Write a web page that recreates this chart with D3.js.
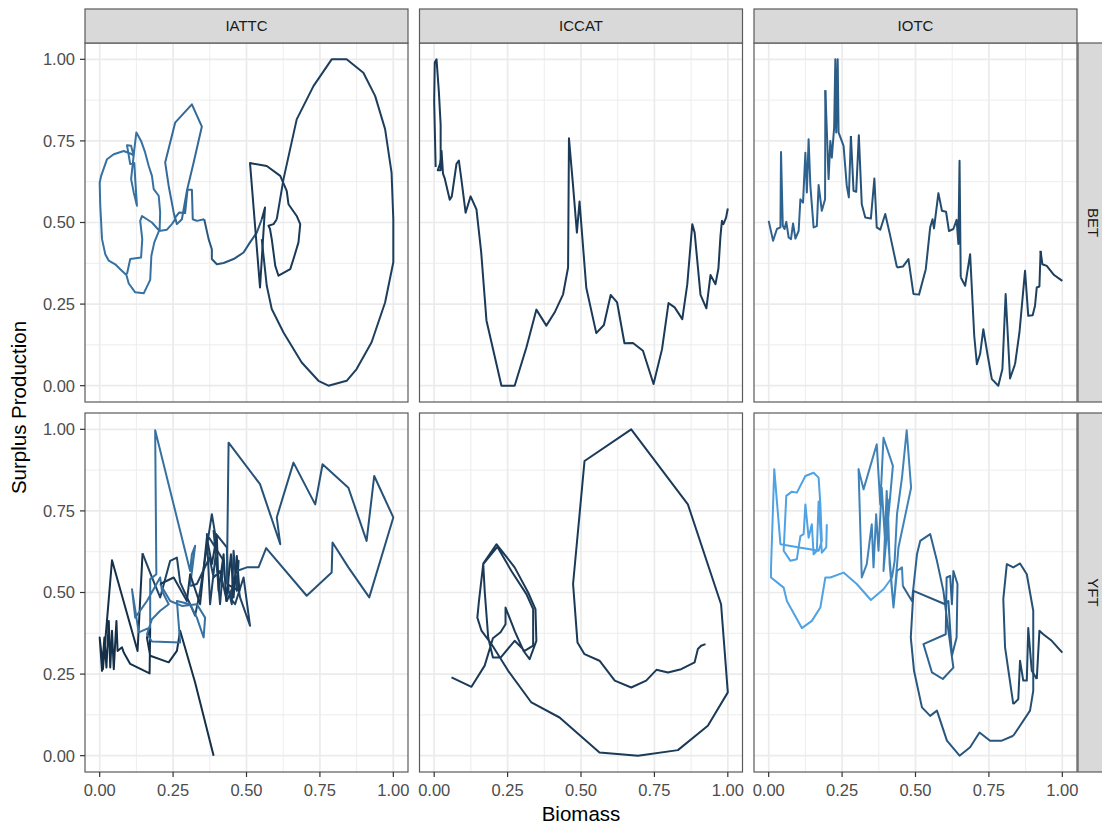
<!DOCTYPE html>
<html>
<head>
<meta charset="utf-8">
<script src="https://cdn.jsdelivr.net/npm/d3@7"></script>
<style>
  body { margin: 0; background: #fff; }
  svg { display: block; font-family: "Liberation Sans", Arial, sans-serif; }
</style>
</head>
<body>
<svg width="1102" height="828"></svg>
<script>
// facet levels
var rfmos = ["IATTC", "ICCAT", "IOTC"];
var species = ["BET", "YFT"];
var ticks = [0, 0.25, 0.5, 0.75, 1];
var minorTicks = [0.125, 0.375, 0.625, 0.875];

// each point: [biomass, surplus production, colour value]
var iattcBET = [
  [.093,.342,.55],[.104,.388,.55],[.141,.393,.55],[.145,.449,.55],[.138,.505,.55],[.144,.520,.55],
  [.178,.500,.55],[.204,.474,.55],[.206,.531,.55],[.201,.582,.55],[.184,.602,.55],[.178,.643,.55],
  [.167,.673,.55],[.155,.714,.55],[.141,.750,.55],[.125,.776,.55],[.118,.724,.55],[.107,.633,.55],
  [.116,.592,.55],[.127,.551,.55],[.121,.633,.55],[.118,.682,.55],[.104,.679,.55],[.093,.737,.55],
  [.107,.735,.55],[.116,.704,.55],[.110,.709,.55],[.082,.719,.55],[.048,.709,.55],[.025,.694,.55],
  [.005,.643,.55],[.000,.622,.55],[.002,.551,.55],[.008,.449,.55],[.019,.403,.55],[.031,.383,.55],
  [.053,.372,.55],[.070,.357,.55],[.091,.339,.55],[.099,.313,.55],[.121,.286,.55],[.150,.283,.55],
  [.172,.324,.55],[.176,.398,.55],[.186,.439,.55],[.202,.474,.55],[.229,.478,.55],[.246,.495,.5],
  [.257,.510,.5],[.252,.531,.5],[.235,.612,.5],[.223,.684,.5],[.257,.806,.5],[.314,.862,.5],
  [.348,.794,.5],[.320,.684,.5],[.297,.597,.5],[.280,.510,.5],[.263,.495,.5],[.257,.515,.5],
  [.271,.531,.5],[.291,.529,.5],[.299,.600,.5],[.314,.600,.5],[.317,.510,.5],[.331,.505,.5],
  [.356,.510,.35],[.371,.449,.35],[.382,.418,.35],[.382,.388,.35],[.399,.372,.35],[.422,.376,.35],
  [.456,.388,.35],[.490,.408,.35],[.512,.439,.35],[.535,.469,.35],[.552,.510,.12],[.563,.546,.12],
  [.546,.301,.12],[.512,.682,.12],[.569,.673,.12],[.615,.643,.12],[.637,.597,.12],[.643,.556,.12],
  [.671,.520,.12],[.683,.495,.12],[.677,.439,.12],[.660,.388,.12],[.649,.357,.12],[.609,.337,.12],
  [.598,.367,.12],[.586,.449,.12],[.580,.480,.12],[.575,.490,.12],[.592,.495,.12],[.603,.510,.17],
  [.626,.633,.17],[.671,.816,.17],[.728,.918,.17],[.790,1.00,.17],[.841,1.00,.17],[.898,.959,.17],
  [.938,.888,.17],[.972,.786,.17],[.994,.653,.17],[1.00,.510,.17],[1.00,.378,.17],[.972,.255,.17],
  [.926,.133,.17],[.875,.051,.17],[.841,.015,.17],[.779,.000,.17],[.745,.015,.17],[.688,.071,.17],
  [.626,.163,.17],[.586,.235,.17],[.569,.306,.17],[.558,.398,.17],[.552,.449,.17]
];

var iccatBET = [
  [.005,.67,.13],[.000,.87,.13],[.002,.99,.13],[.008,1.0,.13],[.016,.90,.13],[.022,.80,.13],
  [.022,.66,.13],[.012,.66,.13],[.020,.68,.13],[.025,.72,.13],[.030,.65,.13],[.036,.635,.13],
  [.053,.57,.13],[.060,.58,.13],[.076,.68,.13],[.084,.69,.13],[.093,.63,.13],[.107,.53,.13],
  [.124,.58,.13],[.144,.54,.13],[.160,.41,.13],[.178,.20,.13],[.206,.09,.13],[.229,.00,.13],
  [.274,.00,.13],[.314,.117,.13],[.348,.233,.13],[.382,.184,.13],[.410,.224,.13],[.439,.28,.13],
  [.456,.362,.13],[.459,.758,.13],[.473,.612,.13],[.486,.469,.13],[.495,.564,.13],[.518,.30,.13],
  [.552,.161,.13],[.578,.186,.13],[.601,.278,.13],[.623,.255,.13],[.648,.13,.13],[.677,.131,.13],
  [.711,.107,.13],[.747,.005,.13],[.776,.112,.13],[.798,.253,.13],[.819,.24,.13],[.845,.204,.13],
  [.862,.311,.13],[.879,.495,.13],[.887,.469,.13],[.907,.278,.13],[.927,.237,.13],[.941,.339,.13],
  [.958,.311,.13],[.968,.359,.13],[.975,.459,.13],[.980,.505,.13],[.985,.495,.13],[.994,.515,.13],
  [1.00,.543,.13]
];

var iotcBET = [
  [.000,.505,.45],[.015,.444,.45],[.028,.480,.45],[.040,.485,.45],[.042,.716,.45],[.048,.490,.45],
  [.054,.480,.45],[.060,.502,.45],[.068,.454,.45],[.076,.449,.45],[.083,.497,.45],[.091,.451,.45],
  [.102,.474,.45],[.108,.571,.45],[.117,.561,.45],[.125,.714,.45],[.130,.592,.45],[.136,.755,.45],
  [.142,.612,.45],[.153,.485,.45],[.164,.489,.45],[.170,.615,.45],[.181,.536,.45],[.192,.571,.45],
  [.193,.905,.4],[.204,.633,.4],[.210,.750,.4],[.215,.699,.4],[.223,.791,.4],[.227,1.00,.4],
  [.230,.776,.4],[.235,1.00,.4],[.238,.776,.4],[.255,.735,.4],[.266,.612,.4],[.273,.577,.4],
  [.280,.765,.32],[.289,.597,.32],[.298,.594,.32],[.307,.767,.32],[.317,.556,.32],[.329,.515,.32],
  [.348,.512,.32],[.360,.635,.32],[.368,.485,.32],[.380,.478,.32],[.397,.526,.32],[.414,.459,.32],
  [.437,.362,.27],[.457,.365,.27],[.476,.388,.27],[.493,.281,.27],[.512,.279,.27],[.535,.357,.27],
  [.550,.485,.27],[.558,.510,.27],[.563,.482,.27],[.578,.590,.27],[.590,.536,.27],[.604,.533,.27],
  [.614,.474,.27],[.629,.480,.27],[.640,.508,.27],[.646,.434,.27],[.650,.689,.27],[.654,.332,.22],
  [.669,.306,.22],[.686,.403,.22],[.700,.153,.22],[.709,.066,.22],[.720,.097,.22],[.731,.173,.22],
  [.745,.097,.22],[.760,.020,.22],[.782,.000,.22],[.796,.051,.22],[.807,.281,.22],[.822,.022,.22],
  [.839,.066,.18],[.854,.163,.18],[.873,.352,.18],[.884,.214,.18],[.899,.216,.18],[.907,.245,.18],
  [.913,.301,.18],[.922,.304,.18],[.926,.413,.15],[.932,.372,.15],[.947,.367,.15],[.972,.339,.15],
  [1.00,.321,.15]
];

var iattcYFT = [
  [.388,.000,.04],[.325,.224,.04],[.274,.383,.04],[.263,.321,.04],[.235,.286,.04],[.172,.306,.04],
  [.161,.362,.04],[.172,.391,.04],[.170,.252,.04],[.104,.281,.04],[.082,.316,.04],[.076,.332,.04],
  [.061,.321,.04],[.057,.413,.04],[.048,.265,.04],[.042,.383,.04],[.036,.270,.04],[.031,.413,.04],
  [.023,.270,.04],[.016,.362,.04],[.008,.260,.04],[.000,.362,.04],[.005,.321,.04],[.011,.265,.04],
  [.042,.599,.04],[.129,.321,.04],[.146,.620,.2],[.178,.546,.2],[.206,.485,.2],[.240,.597,.2],
  [.263,.607,.2],[.274,.531,.2],[.308,.464,.2],[.325,.429,.2],[.342,.505,.2],[.382,.740,.2],
  [.399,.648,.2],[.376,.464,.2],[.365,.679,.2],[.422,.597,.2],[.410,.464,.2],[.388,.689,.2],
  [.433,.638,.2],[.439,.505,.2],[.450,.464,.2],[.456,.628,.2],[.467,.505,.2],[.473,.597,.2],
  [.444,.485,.2],[.461,.464,.2],[.490,.546,.2],[.512,.398,.2],[.478,.485,.2],[.467,.546,.2],
  [.433,.474,.2],[.410,.566,.2],[.388,.546,.2],[.374,.607,.2],[.331,.526,.2],[.308,.520,.55],
  [.325,.643,.55],[.314,.617,.55],[.308,.566,.55],[.189,.997,.55],[.193,.556,.55],[.172,.541,.55],
  [.172,.393,.55],[.133,.378,.55],[.110,.510,.55],[.121,.423,.55],[.161,.474,.55],[.206,.546,.55],
  [.212,.505,.55],[.235,.464,.55],[.206,.444,.55],[.178,.418,.55],[.161,.372,.55],[.178,.350,.55],
  [.274,.347,.55],[.263,.474,.55],[.308,.464,.55],[.331,.423,.55],[.354,.362,.55],[.359,.423,.55],
  [.331,.464,.55],[.280,.459,.55],[.240,.474,.55],[.206,.526,.12],[.252,.546,.12],[.297,.474,.12],
  [.308,.556,.12],[.342,.464,.12],[.365,.668,.12],[.382,.587,.12],[.399,.673,.12],[.405,.505,.12],
  [.422,.617,.12],[.431,.474,.12],[.447,.617,.12],[.456,.485,.12],[.467,.612,.12],[.476,.505,.12],
  [.433,.526,.32],[.439,.959,.32],[.546,.832,.32],[.615,.648,.32],[.603,.730,.32],[.660,.898,.32],
  [.734,.770,.32],[.759,.893,.32],[.847,.821,.32],[.909,.658,.32],[.935,.857,.32],[1.00,.730,.32],
  [.918,.485,.32],[.847,.577,.32],[.793,.653,.32],[.790,.561,.32],[.705,.490,.32],[.567,.636,.32],
  [.541,.577,.32],[.501,.577,.32],[.467,.566,.32]
];

var iccatYFT = [
  [.059,.240,.13],[.127,.211,.13],[.172,.276,.13],[.200,.360,.13],[.226,.378,.13],[.243,.403,.13],
  [.243,.454,.13],[.275,.380,.13],[.305,.320,.13],[.325,.296,.13],[.348,.352,.13],[.345,.449,.13],
  [.320,.500,.13],[.274,.577,.13],[.212,.648,.13],[.167,.589,.13],[.172,.505,.13],[.184,.362,.13],
  [.200,.301,.13],[.227,.301,.13],[.274,.352,.13],[.308,.321,.13],[.337,.337,.13],[.337,.449,.13],
  [.314,.495,.13],[.263,.566,.13],[.215,.640,.13],[.167,.587,.13],[.152,.470,.13],[.147,.423,.13],
  [.161,.383,.13],[.195,.342,.13],[.252,.260,.13],[.331,.163,.13],[.427,.117,.13],[.563,.010,.13],
  [.694,.000,.13],[.830,.017,.13],[.932,.092,.13],[1.00,.194,.13],[.977,.464,.13],[.864,.770,.13],
  [.671,1.00,.13],[.512,.903,.13],[.473,.526,.13],[.488,.347,.13],[.512,.311,.13],[.563,.291,.13],
  [.615,.230,.13],[.671,.209,.13],[.722,.230,.13],[.757,.263,.13],[.796,.255,.13],[.841,.265,.13],
  [.887,.286,.13],[.898,.327,.13],[.909,.337,.13],[.924,.342,.13]
];

var iotcYFT = [
  [.198,.709,.9],[.196,.638,.9],[.181,.622,.9],[.170,.779,.9],[.164,.628,.9],[.153,.617,.9],
  [.147,.709,.9],[.136,.668,.9],[.125,.770,.9],[.119,.679,.9],[.108,.673,.9],[.096,.602,.9],
  [.074,.597,.9],[.051,.628,.9],[.060,.796,.9],[.079,.809,.9],[.096,.806,.9],[.125,.857,.9],
  [.153,.867,.9],[.170,.852,.9],[.176,.770,.9],[.181,.658,.9],[.170,.628,.9],[.040,.648,.9],
  [.019,.878,.9],[.008,.577,.9],[.008,.546,.9],[.051,.515,.9],[.062,.474,.9],[.113,.391,.9],
  [.147,.413,.9],[.176,.454,.9],[.193,.546,.9],[.210,.546,.9],[.255,.561,.9],[.300,.526,.9],
  [.348,.477,.9],[.391,.510,.9],[.420,.546,.68],[.429,.597,.68],[.437,.740,.68],[.454,.852,.68],
  [.470,.997,.68],[.485,.821,.68],[.442,.638,.68],[.425,.454,.68],[.408,.648,.68],[.402,.811,.68],
  [.391,.566,.68],[.423,.888,.68],[.391,.974,.68],[.380,.770,.68],[.368,.954,.68],[.323,.816,.68],
  [.306,.878,.68],[.317,.546,.68],[.334,.587,.68],[.351,.709,.68],[.357,.577,.68],[.366,.740,.68],
  [.374,.628,.68],[.385,.821,.68],[.397,.648,.68],[.405,.786,.68],[.412,.587,.68],[.425,.454,.68],
  [.437,.566,.68],[.454,.577,.68],[.457,.520,.45],[.488,.474,.45],[.505,.617,.45],[.516,.658,.45],
  [.550,.679,.45],[.573,.597,.45],[.595,.505,.45],[.612,.383,.45],[.629,.270,.45],[.593,.235,.45],
  [.556,.255,.45],[.527,.342,.45],[.603,.372,.45],[.606,.546,.45],[.618,.551,.45],[.624,.464,.45],
  [.629,.566,.45],[.643,.526,.45],[.640,.362,.45],[.624,.306,.45],[.612,.474,.45],[.601,.464,.35],
  [.493,.505,.35],[.484,.362,.35],[.495,.260,.35],[.522,.148,.35],[.550,.122,.35],[.573,.138,.35],
  [.607,.046,.35],[.650,.000,.35],[.686,.026,.35],[.718,.071,.35],[.754,.046,.35],[.794,.046,.35],
  [.833,.061,.3],[.890,.138,.3],[.901,.199,.3],[.901,.444,.3],[.879,.556,.3],[.856,.589,.3],
  [.833,.577,.3],[.811,.587,.3],[.799,.480,.3],[.805,.332,.3],[.833,.158,.22],[.850,.173,.22],
  [.856,.291,.22],[.867,.230,.22],[.879,.230,.22],[.884,.391,.22],[.896,.260,.22],[.913,.235,.18],
  [.922,.383,.18],[.935,.372,.18],[.964,.352,.18],[1.00,.316,.18]
];

var panelData = {
  "IATTC BET": iattcBET, "ICCAT BET": iccatBET, "IOTC BET": iotcBET,
  "IATTC YFT": iattcYFT, "ICCAT YFT": iccatYFT, "IOTC YFT": iotcYFT
};

var svg = d3.select("svg"),
    plotLeft = 85, plotRight = 1077, plotTop = 43, plotBottom = 772,
    gapX = 11.5, gapY = 11, stripH = 34, stripW = 31,
    panelW = (plotRight - plotLeft - gapX * 2) / 3,
    panelH = (plotBottom - plotTop - gapY) / 2;

var x = d3.scaleLinear().domain([-0.05, 1.05]).range([0, panelW]),
    y = d3.scaleLinear().domain([-0.05, 1.05]).range([panelH, 0]);

// ggplot's default continuous colour gradient
var colour = d3.scaleLinear().domain([0, 1])
    .range(["#132B43", "#56B1F7"]).interpolate(d3.interpolateLab);

var line = d3.line()
    .x(function(d) { return x(d[0]); })
    .y(function(d) { return y(d[1]); });

// split a path into runs that share one colour (segment takes its start colour)
function colourRuns(pts) {
  var out = [], cur = null;
  for (var i = 0; i < pts.length - 1; i++) {
    var c = pts[i][2];
    if (!cur || cur.c !== c) { cur = {c: c, pts: [pts[i]]}; out.push(cur); }
    cur.pts.push(pts[i + 1]);
  }
  return out;
}

species.forEach(function(sp, r) {
  rfmos.forEach(function(rf, c) {
    var px = plotLeft + c * (panelW + gapX),
        py = plotTop + r * (panelH + gapY);
    var g = svg.append("g").attr("transform", "translate(" + px + "," + py + ")");

    // grid
    g.selectAll(".minx").data(minorTicks).enter().append("line")
      .attr("x1", x).attr("x2", x).attr("y1", 0).attr("y2", panelH)
      .attr("stroke", "#EBEBEB").attr("stroke-width", 0.9);
    g.selectAll(".miny").data(minorTicks).enter().append("line")
      .attr("y1", y).attr("y2", y).attr("x1", 0).attr("x2", panelW)
      .attr("stroke", "#EBEBEB").attr("stroke-width", 0.9);
    g.selectAll(".majx").data(ticks).enter().append("line")
      .attr("x1", x).attr("x2", x).attr("y1", 0).attr("y2", panelH)
      .attr("stroke", "#EBEBEB").attr("stroke-width", 1.7);
    g.selectAll(".majy").data(ticks).enter().append("line")
      .attr("y1", y).attr("y2", y).attr("x1", 0).attr("x2", panelW)
      .attr("stroke", "#EBEBEB").attr("stroke-width", 1.7);

    // paths
    g.selectAll(".run").data(colourRuns(panelData[rf + " " + sp])).enter().append("path")
      .attr("d", function(d) { return line(d.pts); })
      .attr("fill", "none")
      .attr("stroke", function(d) { return colour(d.c); })
      .attr("stroke-width", 2)
      .attr("stroke-linejoin", "round");

    // border
    g.append("rect").attr("width", panelW).attr("height", panelH)
      .attr("fill", "none").attr("stroke", "#5a5a5a").attr("stroke-width", 1.2);

    // top strips
    if (r === 0) {
      var s = svg.append("g").attr("transform", "translate(" + px + "," + (plotTop - stripH) + ")");
      s.append("rect").attr("width", panelW).attr("height", stripH)
        .attr("fill", "#D9D9D9").attr("stroke", "#5a5a5a").attr("stroke-width", 1.2);
      s.append("text").attr("x", panelW / 2).attr("y", stripH / 2).attr("dy", "0.36em")
        .attr("text-anchor", "middle").attr("fill", "#1A1A1A").style("font-size", "15px")
        .text(rf);
    }
    // right strips
    if (c === 2) {
      var rs = svg.append("g").attr("transform", "translate(" + (plotRight + 1) + "," + py + ")");
      rs.append("rect").attr("width", stripW).attr("height", panelH)
        .attr("fill", "#D9D9D9").attr("stroke", "#5a5a5a").attr("stroke-width", 1.2);
      rs.append("text")
        .attr("transform", "translate(" + (stripW / 2) + "," + (panelH / 2) + ") rotate(90)")
        .attr("dy", "0.36em").attr("text-anchor", "middle")
        .attr("fill", "#1A1A1A").style("font-size", "15px").text(sp);
    }
    // y axis on left column
    if (c === 0) {
      var ya = g.append("g");
      ya.selectAll("line").data(ticks).enter().append("line")
        .attr("x1", -5).attr("x2", 0).attr("y1", y).attr("y2", y)
        .attr("stroke", "#333").attr("stroke-width", 1.2);
      ya.selectAll("text").data(ticks).enter().append("text")
        .attr("x", -10).attr("y", y).attr("dy", "0.36em").attr("text-anchor", "end")
        .attr("fill", "#4D4D4D").style("font-size", "16.5px")
        .text(d3.format(".2f"));
    }
    // x axis on bottom row
    if (r === 1) {
      var xa = g.append("g").attr("transform", "translate(0," + panelH + ")");
      xa.selectAll("line").data(ticks).enter().append("line")
        .attr("x1", x).attr("x2", x).attr("y1", 0).attr("y2", 5)
        .attr("stroke", "#333").attr("stroke-width", 1.2);
      xa.selectAll("text").data(ticks).enter().append("text")
        .attr("x", x).attr("y", 24).attr("text-anchor", "middle")
        .attr("fill", "#4D4D4D").style("font-size", "16.5px")
        .text(d3.format(".2f"));
    }
  });
});

// axis titles
svg.append("text")
  .attr("x", (plotLeft + plotRight) / 2).attr("y", 821)
  .attr("text-anchor", "middle").style("font-size", "20.5px")
  .text("Biomass");

svg.append("text")
  .attr("transform", "translate(26," + ((plotTop + plotBottom) / 2) + ") rotate(-90)")
  .attr("text-anchor", "middle").style("font-size", "20.5px")
  .text("Surplus Production");
</script>
</body>
</html>
